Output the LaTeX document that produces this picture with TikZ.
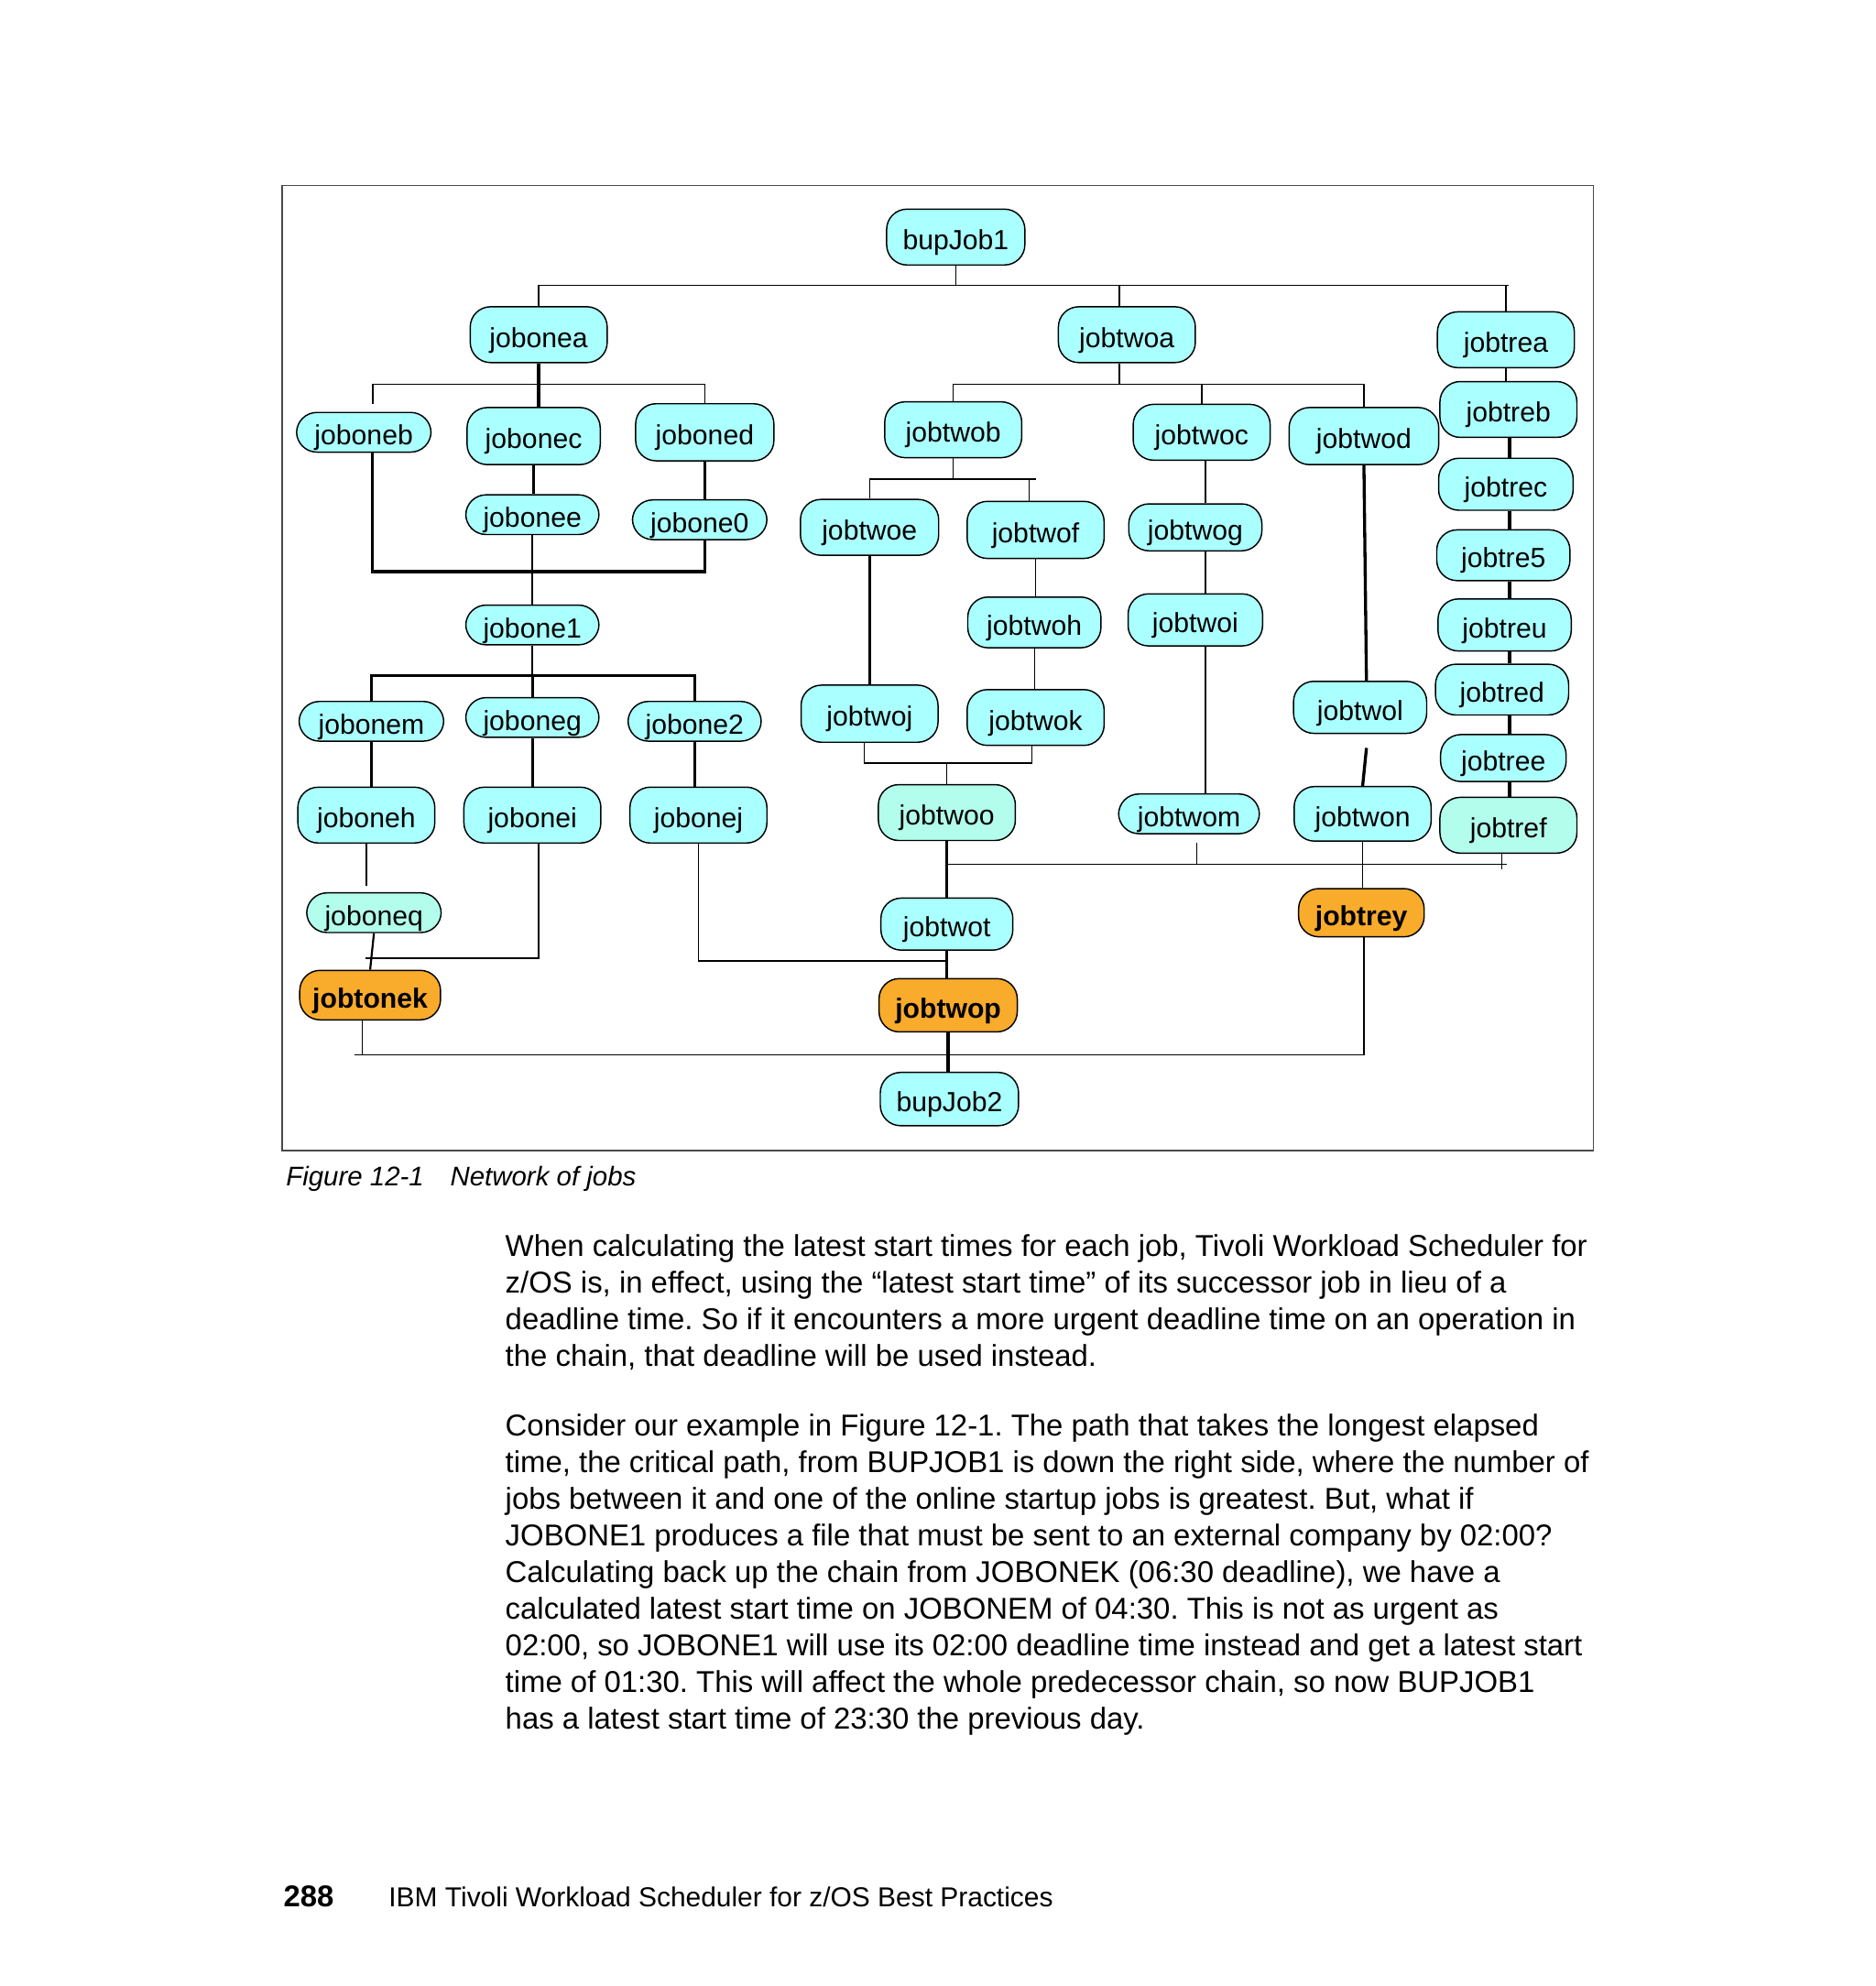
\documentclass[tikz,border=0pt]{standalone}
\usepackage{fontspec}
\setmainfont{Liberation Sans}
\frenchspacing

\definecolor{jobcyan}{HTML}{AAFFFF}
\definecolor{jobmint}{HTML}{B2FDEB}
\definecolor{joblate}{HTML}{F9AB2B}
\definecolor{framegray}{HTML}{4A4A4A}

\newcommand{\jobfont}{\fontsize{6.2}{7}\selectfont}
\newcommand{\bodyfont}{\fontsize{6.76}{8.25}\selectfont}
\newcommand{\capfont}{\fontsize{6.05}{7}\selectfont\itshape}
\newcommand{\footfont}{\fontsize{6.15}{7}\selectfont}

\tikzset{
  job/.style={draw, line width=0.3pt, rounded corners=0.16cm, inner sep=0pt, fill=jobcyan,
    font=\jobfont, text height=0.73em, text depth=0.16em},
  wirethin/.style={line width=0.28pt},
  wiremid/.style={line width=0.45pt},
  wirebold/.style={line width=0.68pt},
  txt/.style={anchor=base west, inner sep=0pt},
}

\begin{document}
\begin{tikzpicture}[x=0.01cm, y=-0.01cm]
\fill[white] (0,0) rectangle (1480,1566.7);
\useasboundingbox (0,0) rectangle (1480,1566.7);

% figure frame
\draw[framegray, line width=0.35pt] (222.5,146.3) rectangle (1257,907.6);

% job boxes: name/x/y/width/height
\foreach \n/\x/\y/\w/\h in {bupJob1/754/187/1.09/0.44, jobonea/425/264/1.08/0.44,
    jobtwoa/889/264/1.08/0.44, jobtrea/1188/268/1.08/0.44, joboneb/287/341/1.06/0.30,
    jobonec/421/344/1.05/0.45, joboned/556/341/1.09/0.45, jobtwob/752/339/1.08/0.44,
    jobtwoc/948/341/1.08/0.44, jobtwod/1076/344/1.18/0.45, jobtreb/1190/323/1.08/0.44,
    jobonee/420/406/1.05/0.31, jobone0/552/410/1.06/0.30, jobtwoe/686/416/1.09/0.44,
    jobtwof/817/418/1.08/0.45, jobtwog/943/416/1.05/0.37, jobtrec/1188/382/1.06/0.41,
    jobtre5/1186/438/1.05/0.40, jobone1/420/493/1.05/0.31, jobtwoh/816/491/1.05/0.40,
    jobtwoi/943/489/1.06/0.41, jobtreu/1187/493/1.05/0.41, jobonem/293/569/1.14/0.29,
    joboneg/420/566/1.05/0.30, jobone2/548/569/1.05/0.29, jobtwoj/686/563/1.08/0.45,
    jobtwok/817/566/1.08/0.44, jobtwol/1073/558/1.05/0.41, jobtred/1185/544/1.05/0.40,
    jobtree/1186/598/0.99/0.37, joboneh/289/643/1.08/0.44, jobonei/420/643/1.08/0.44,
    jobonej/551/643/1.08/0.44, jobtwom/938/642/1.11/0.31, jobtwon/1075/642/1.08/0.43,
    jobtwot/747/729/1.04/0.41, bupJob2/749/867/1.09/0.42}
  \node[job, minimum width=\w cm, minimum height=\h cm] (\n) at (\x,\y) {\n};

% the greener ones
\foreach \n/\x/\y/\w/\h in {jobtwoo/747/641/1.08/0.44, jobtref/1190/651/1.08/0.44,
    joboneq/295/720/1.06/0.30}
  \node[job, fill=jobmint, minimum width=\w cm, minimum height=\h cm] (\n) at (\x,\y) {\n};

% deadline jobs
\foreach \n/\x/\y/\w/\h in {jobtrey/1074/720/0.99/0.38, jobtonek/292/785/1.11/0.39,
    jobtwop/748/793/1.09/0.42}
  \node[job, fill=joblate, font=\jobfont\bfseries, minimum width=\w cm, minimum height=\h cm] (\n) at (\x,\y) {\n};

% bus lines and columns
\coordinate (busTop) at (1190,225);
\coordinate (xTwoA) at (883,0);
\coordinate (busOneA) at (0,303);
\coordinate (stubB) at (294,319);
\coordinate (xOneB) at (294,0);
\coordinate (busOneC) at (0,451);
\coordinate (busOneM) at (0,533);
\coordinate (stubQ) at (289,699);
\coordinate (xOneI) at (425,0);
\coordinate (barI) at (288,756);
\coordinate (barJ) at (0,758);
\coordinate (xOneK) at (286,0);
\coordinate (busEnd) at (280,832);
\coordinate (xTreY) at (1076,0);
\coordinate (busTwoA) at (0,303);
\coordinate (busTwoB) at (0,378);
\coordinate (xTwoF) at (812,0);
\coordinate (xTwoG) at (951,0);
\coordinate (xTwoJ) at (682,0);
\coordinate (xTwoK) at (814,0);
\coordinate (busTwoO) at (0,602);
\coordinate (busTwoT) at (1189,682);
\coordinate (stubM) at (944,665);
\coordinate (tickF) at (1185,686);
\coordinate (xTwoL) at (1078,0);
\coordinate (stubL) at (1078,590);
\coordinate (xTre) at (1191,0);

% from bupJob1
\draw[wirethin] (bupJob1.south) -- (bupJob1.south |- busTop);
\draw[wirethin] (jobonea.north) |- (busTop);
\draw[wirethin] (xTwoA |- jobtwoa.north) -- (xTwoA |- busTop);
\draw[wirethin] (jobtrea.north) -- (jobtrea.north |- busTop);

% jobonea branch
\draw[wirebold] (jobonea.south) -- (jobonea.south |- jobonec.north);
\draw[wirethin] (stubB) |- (joboned.north |- busOneA) -- (joboned.north);
\draw[wiremid] (jobonec.south) -- (jobonec.south |- jobonee.north);
\draw[wirebold] (joboned.south) -- (joboned.south |- jobone0.north);
\draw[wirebold] (xOneB |- joboneb.south) |- (joboned.south |- busOneC) -- (joboned.south |- jobone0.south);
\draw[wiremid] (jobonee.south) -- (jobonee.south |- jobone1.north);
\draw[wiremid] (jobone1.south) -- (jobone1.south |- busOneM);
\draw[wirebold] (jobonem.north) |- (jobone2.north |- busOneM) -- (jobone2.north);
\draw[wirebold] (joboneg.north) -- (joboneg.north |- busOneM);
\draw[wirebold] (jobonem.south) -- (jobonem.south |- joboneh.north);
\draw[wirebold] (joboneg.south) -- (joboneg.south |- jobonei.north);
\draw[wirebold] (jobone2.south) -- (jobone2.south |- jobonej.north);
\draw[wirethin] (joboneh.south) -- (stubQ);
\draw[wiremid] (joboneq.south) -- (jobtonek.north);
\draw[wirethin] (xOneI |- jobonei.south) |- (barI);
\draw[wirethin] (jobonej.south) |- (jobtwop.north |- barJ);
\draw[wirethin] (xOneK |- jobtonek.south) |- (xTreY |- busEnd) -- (xTreY |- jobtrey.south);
\draw[wirethin] (busEnd) -- (xOneK |- busEnd);

% jobtwoa branch
\draw[wirethin] (xTwoA |- jobtwoa.south) -- (xTwoA |- busTwoA);
\draw[wirethin] (jobtwob.north) |- (jobtwod.north |- busTwoA) -- (jobtwod.north);
\draw[wirethin] (jobtwoc.north) -- (jobtwoc.north |- busTwoA);
\draw[wirethin] (jobtwob.south) -- (jobtwob.south |- busTwoB);
\draw[wirethin] (jobtwoe.north) |- (jobtwof.north |- busTwoB);
\draw[wirethin] (xTwoF |- busTwoB) -- (xTwoF |- jobtwof.north);
\draw[wirebold] (jobtwoe.south) -- (jobtwoe.south |- jobtwoj.north);
\draw[wirethin] (jobtwof.south) -- (jobtwof.south |- jobtwoh.north);
\draw[wirethin] (jobtwoh.south) -- (jobtwoh.south |- jobtwok.north);
\draw[wirethin] (xTwoG |- jobtwoc.south) -- (xTwoG |- jobtwog.north);
\draw[wirethin] (xTwoG |- jobtwog.south) -- (xTwoG |- jobtwoi.north);
\draw[wirethin] (xTwoG |- jobtwoi.south) -- (xTwoG |- jobtwom.north);
\draw[wirethin] (xTwoJ |- jobtwoj.south) |- (xTwoK |- busTwoO) -- (xTwoK |- jobtwok.south);
\draw[wirethin] (jobtwoo.north) -- (jobtwoo.north |- busTwoO);
\draw[wirebold] (jobtwoo.south) -- (jobtwoo.south |- jobtwot.north);
\draw[wirebold] (jobtwot.south) -- (jobtwot.south |- jobtwop.north);
\draw[wirebold] (jobtwop.south) -- (jobtwop.south |- bupJob2.north);
\draw[wirethin] (jobtwoo.south |- busTwoT) -- (busTwoT);
\draw[wirethin] (stubM) -- (stubM |- busTwoT);
\draw[wirethin] (tickF |- jobtref.south) -- (tickF);
\draw[wirethin] (jobtwon.south) -- (jobtwon.south |- jobtrey.north);
\draw[wirebold] (jobtwod.south) -- (xTwoL |- jobtwol.north);
\draw[wirebold] (stubL) -- (jobtwon.north);

% jobtrea chain
\draw[wirethin] (jobtrea.south) -- (jobtrea.south |- jobtreb.north);
\foreach \a/\b in {jobtreb/jobtrec, jobtrec/jobtre5, jobtre5/jobtreu, jobtreu/jobtred,
    jobtred/jobtree, jobtree/jobtref}
  \draw[wirebold] (xTre |- \a.south) -- (xTre |- \b.north);

% caption
\node[txt, font=\capfont] (figno) at (225,935.6) {Figure 12-1};
\node[txt, font=\capfont] (figtitle) at (354.5,935.6) {Network of jobs};

% body text
\foreach \ln [count=\i from 0] in {
    {When calculating the latest start times for each job, Tivoli Workload Scheduler for},
    {z/OS is, in effect, using the “latest start time” of its successor job in lieu of a},
    {deadline time. So if it encounters a more urgent deadline time on an operation in},
    {the chain, that deadline will be used instead.}}
  \node[txt, font=\bodyfont] at (398,{991+29*\i}) {\ln};

\foreach \ln [count=\i from 0] in {
    {Consider our example in Figure 12-1. The path that takes the longest elapsed},
    {time, the critical path, from BUPJOB1 is down the right side, where the number of},
    {jobs between it and one of the online startup jobs is greatest. But, what if},
    {JOBONE1 produces a file that must be sent to an external company by 02:00?},
    {Calculating back up the chain from JOBONEK (06:30 deadline), we have a},
    {calculated latest start time on JOBONEM of 04:30. This is not as urgent as},
    {02:00, so JOBONE1 will use its 02:00 deadline time instead and get a latest start},
    {time of 01:30. This will affect the whole predecessor chain, so now BUPJOB1},
    {has a latest start time of 23:30 the previous day.}}
  \node[txt, font=\bodyfont] at (398,{1132.4+28.95*\i}) {\ln};

% running foot
\node[txt, font=\fontsize{6.75}{8}\selectfont\bfseries] (pageno) at (223,1504.3) {288};
\node[txt, font=\footfont] (runfoot) at (306,1504.3) {IBM Tivoli Workload Scheduler for z/OS Best Practices};
\end{tikzpicture}
\end{document}
